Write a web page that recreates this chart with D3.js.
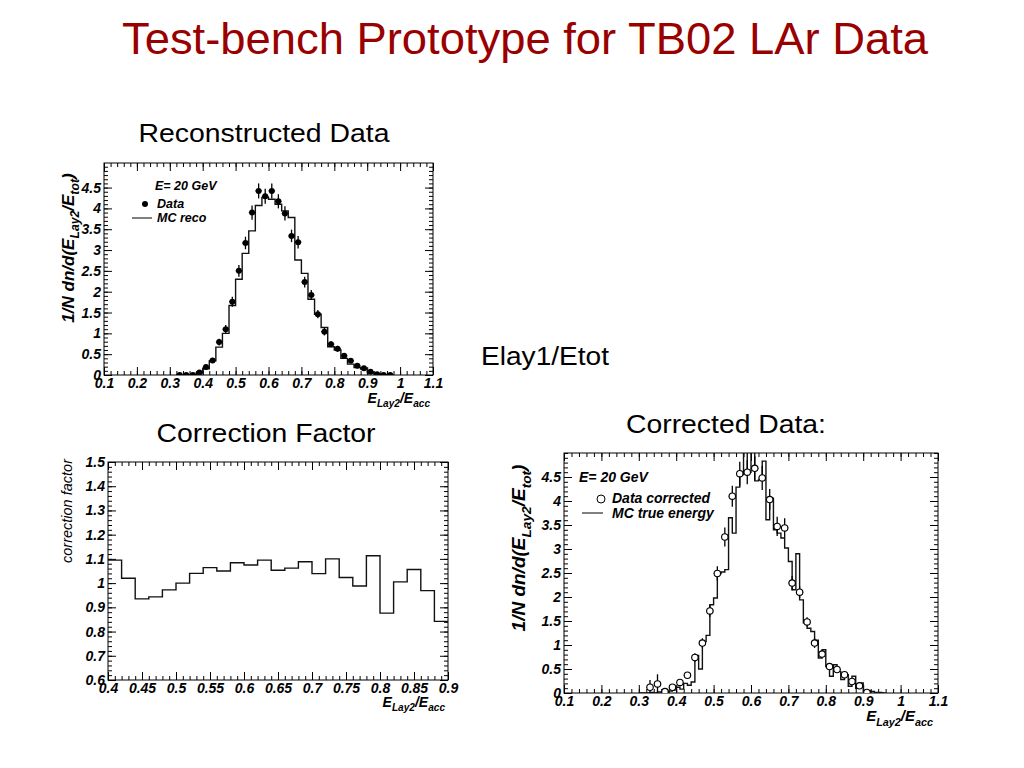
<!DOCTYPE html>
<html>
<head>
<meta charset="utf-8">
<script src="https://cdn.jsdelivr.net/npm/d3@7"></script>
<style>
  body { margin: 0; background: #fff; }
  text { font-family: "Liberation Sans", Arial, Helvetica, sans-serif; }
  .tick text { font-weight: bold; font-style: italic; font-size: 14px; fill: #000; }
  .tick line { stroke: #000; stroke-width: 1; }
  .lbl { font-weight: bold; font-style: italic; font-size: 13px; }
</style>
</head>
<body>
<svg id="chart"></svg>
<script>
// ---- Reconstructed data (top left) ----
const recoX = [0.33,0.35,0.37,0.39,0.41,0.43,0.45,0.47,0.49,0.51,0.53,0.55,0.57,0.59,0.61,0.63,0.65,
  0.67,0.69,0.71,0.73,0.75,0.77,0.79,0.81,0.83,0.85,0.87,0.89,0.91,0.93,0.95,0.97];
const recoY = [0.0,0.0,0.0,0.06,0.19,0.35,0.79,1.1,1.76,2.5,3.17,3.9,4.42,4.29,4.42,4.17,3.88,
  3.34,3.19,2.23,1.92,1.46,1.04,0.74,0.63,0.46,0.34,0.22,0.16,0.08,0.02,0.0,0.0];
const recoErr = [0.01,0.01,0.01,0.03,0.04,0.06,0.08,0.1,0.12,0.14,0.15,0.17,0.18,0.18,0.18,0.17,0.17,
  0.15,0.15,0.13,0.12,0.1,0.09,0.07,0.07,0.06,0.05,0.04,0.04,0.03,0.02,0.01,0.01];
const mcRecoLow = [0.32,0.34,0.36,0.38,0.40,0.42,0.44,0.46,0.48,0.50,0.52,0.54,0.56,0.58,0.60,0.62,0.64,
  0.66,0.68,0.70,0.72,0.74,0.76,0.78,0.80,0.82,0.84,0.86,0.88,0.90,0.92,0.94,0.96];
const mcRecoY = [0,0,0.01,0.05,0.15,0.34,0.67,1.0,1.67,2.30,2.92,3.46,4.07,4.26,4.22,4.10,3.94,
  3.78,2.76,2.44,1.82,1.46,1.14,0.68,0.60,0.40,0.26,0.18,0.14,0.06,0.03,0.01,0];

// ---- Correction factor (bottom left) ----
const corrLow = [0.40,0.42,0.44,0.46,0.48,0.50,0.52,0.54,0.56,0.58,0.60,0.62,0.64,0.66,0.68,0.70,
  0.72,0.74,0.76,0.78,0.80,0.82,0.84,0.86,0.88];
const corrFactor = [1.095,1.02,0.935,0.943,0.972,1.0,1.04,1.064,1.05,1.084,1.075,1.095,1.053,1.062,
  1.088,1.039,1.10,1.023,0.988,1.113,0.876,1.005,1.056,0.969,0.842];

// ---- Corrected data (bottom right) ----
const fixedX = [0.33,0.35,0.37,0.39,0.41,0.43,0.45,0.47,0.49,0.51,0.53,0.55,0.57,0.59,0.61,0.63,0.65,
  0.67,0.69,0.71,0.73,0.75,0.77,0.79,0.81,0.83,0.85,0.87,0.89,0.91];
const fixedY = [0.12,0.19,0.03,0.12,0.22,0.37,0.74,1.04,1.71,2.49,3.25,4.10,4.57,4.60,4.68,4.48,4.03,
  3.47,3.44,2.29,2.10,1.48,1.04,0.81,0.55,0.49,0.38,0.24,0.15,0.01];
const fixedErr = [0.15,0.2,0.04,0.06,0.06,0.06,0.09,0.1,0.12,0.15,0.2,0.22,0.25,0.25,0.25,0.25,0.22,
  0.2,0.2,0.15,0.12,0.1,0.1,0.08,0.07,0.06,0.06,0.05,0.04,0.02];
const mcTrueLow = [0.30,0.31,0.32,0.33,0.34,0.35,0.36,0.37,0.38,0.39,0.40,0.41,0.42,0.43,0.44,0.45,
  0.46,0.47,0.48,0.49,0.50,0.51,0.52,0.53,0.54,0.55,0.56,0.57,0.58,0.59,0.60,0.61,0.62,0.63,0.64,
  0.65,0.66,0.67,0.68,0.69,0.70,0.71,0.72,0.73,0.74,0.75,0.76,0.77,0.78,0.79,0.80,0.81,0.82,0.83,
  0.84,0.85,0.86,0.87,0.88,0.89,0.90,0.91,0.92,0.93,0.94,0.95];
const mcTrueY = [0,0,0,0.01,0,0.02,0.01,0.02,0.04,0.06,0.12,0.08,0.20,0.16,0.23,0.78,
  0.50,1.07,1.2,1.84,1.98,2.49,2.52,2.57,3.65,3.33,4.29,4.55,5.5,4.6,5.2,4.42,4.44,4.83,3.61,
  4.06,3.40,3.33,3.23,3.02,2.74,2.15,2.90,1.94,1.46,1.35,1.28,1.10,0.73,0.90,0.55,0.35,0.59,0.45,
  0.28,0.38,0.14,0.35,0.10,0.21,0.03,0.05,0.03,0.01,0.01,0];

// ---- tick labels ----
const xTicksE = [0.1,0.2,0.3,0.4,0.5,0.6,0.7,0.8,0.9,1,1.1];
const yTicksE = [0,0.5,1,1.5,2,2.5,3,3.5,4,4.5];
const xTicksC = [0.4,0.45,0.5,0.55,0.6,0.65,0.7,0.75,0.8,0.85,0.9];
const yTicksC = [0.6,0.7,0.8,0.9,1,1.1,1.2,1.3,1.4,1.5];

const svg = d3.select("#chart").attr("width", 1024).attr("height", 768);
svg.append("rect").attr("width", 1024).attr("height", 768).attr("fill", "#fff");

const fmt = d => String(+d.toFixed(2));
let clipId = 0;

function panel(p) {
  const x = d3.scaleLinear().domain(p.xDomain).range([p.left, p.right]);
  const y = d3.scaleLinear().domain(p.yDomain).range([p.bottom, p.top]);
  const g = svg.append("g");

  const minorX = x.ticks(p.xMinor), minorY = y.ticks(p.yMinor);
  // bottom / top
  g.append("g").attr("transform", `translate(0,${p.bottom})`)
    .call(d3.axisBottom(x).tickValues(p.xTicks).tickFormat(fmt).tickSize(-8).tickPadding(3));
  g.append("g").attr("transform", `translate(0,${p.bottom})`)
    .call(d3.axisBottom(x).tickValues(minorX).tickFormat("").tickSize(-4));
  g.append("g").attr("transform", `translate(0,${p.top})`)
    .call(d3.axisTop(x).tickValues(p.xTicks).tickFormat("").tickSize(-8));
  g.append("g").attr("transform", `translate(0,${p.top})`)
    .call(d3.axisTop(x).tickValues(minorX).tickFormat("").tickSize(-4));
  // left / right
  g.append("g").attr("transform", `translate(${p.left},0)`)
    .call(d3.axisLeft(y).tickValues(p.yTicks).tickFormat(fmt).tickSize(-8).tickPadding(3));
  g.append("g").attr("transform", `translate(${p.left},0)`)
    .call(d3.axisLeft(y).tickValues(minorY).tickFormat("").tickSize(-4));
  g.append("g").attr("transform", `translate(${p.right},0)`)
    .call(d3.axisRight(y).tickValues(p.yTicks).tickFormat("").tickSize(-8));
  g.append("g").attr("transform", `translate(${p.right},0)`)
    .call(d3.axisRight(y).tickValues(minorY).tickFormat("").tickSize(-4));
  g.selectAll(".domain").remove();

  g.append("rect")
    .attr("x", p.left).attr("y", p.top)
    .attr("width", p.right - p.left).attr("height", p.bottom - p.top)
    .attr("fill", "none").attr("stroke", "#000").attr("stroke-width", 1);

  const id = "clip" + (clipId++);
  svg.append("clipPath").attr("id", id).append("rect")
    .attr("x", p.left).attr("y", p.top)
    .attr("width", p.right - p.left).attr("height", p.bottom - p.top);
  const plot = g.append("g").attr("clip-path", `url(#${id})`);
  return {x, y, g, plot};
}

function histo(plot, x, y, low, vals, width) {
  const pts = low.map((d, i) => [d, vals[i]]);
  pts.push([low[low.length - 1] + width, vals[vals.length - 1]]);
  plot.append("path")
    .attr("d", d3.line().x(d => x(d[0])).y(d => y(d[1])).curve(d3.curveStepAfter)(pts))
    .attr("fill", "none").attr("stroke", "#111").attr("stroke-width", 1.4);
}

function points(plot, x, y, xs, ys, errs, half, open) {
  const pts = xs.map((d, i) => ({x: d, y: ys[i], e: errs[i]}));
  plot.selectAll(null).data(pts).enter().append("line")
    .attr("x1", d => x(d.x)).attr("x2", d => x(d.x))
    .attr("y1", d => y(d.y - d.e)).attr("y2", d => y(d.y + d.e))
    .attr("stroke", "#000").attr("stroke-width", 1.3);
  plot.selectAll(null).data(pts).enter().append("line")
    .attr("x1", d => x(d.x - half)).attr("x2", d => x(d.x + half))
    .attr("y1", d => y(d.y)).attr("y2", d => y(d.y))
    .attr("stroke", "#000").attr("stroke-width", 1);
  plot.selectAll(null).data(pts).enter().append("circle")
    .attr("cx", d => x(d.x)).attr("cy", d => y(d.y))
    .attr("r", open ? 3.2 : 3)
    .attr("fill", open ? "#fff" : "#000")
    .attr("stroke", "#000").attr("stroke-width", open ? 1.1 : 0);
}

function subLabel(parent, x, y, parts, size, anchor, rotate) {
  const t = parent.append("text").attr("class", "lbl")
    .attr("text-anchor", anchor).style("font-size", size + "px")
    .attr("transform", `translate(${x},${y})` + (rotate ? " rotate(-90)" : ""));
  let shifted = 0;
  parts.forEach(([txt, sub]) => {
    const dy = sub ? size * 0.3 : -shifted;
    t.append("tspan").text(txt)
      .attr("dy", dy)
      .style("font-size", (sub ? size * 0.72 : size) + "px");
    shifted = sub ? size * 0.3 : 0;
  });
  return t;
}

function heading(x, y, size, width, txt, color) {
  svg.append("text").attr("x", x).attr("y", y).attr("text-anchor", "middle")
    .style("font-size", size + "px").attr("fill", color || "#000")
    .attr("textLength", width).attr("lengthAdjust", "spacingAndGlyphs")
    .text(txt);
}

// ---- titles ----
heading(525, 54, 44, 806, "Test-bench Prototype for TB02 LAr Data", "#990000");
heading(264, 142, 26, 251, "Reconstructed Data");
heading(266, 442, 26, 219, "Correction Factor");
heading(545, 365, 26, 128, "Elay1/Etot");
heading(726, 433, 26, 200, "Corrected Data:");

// ---- top left ----
const tl = panel({xDomain: [0.1, 1.1], yDomain: [0, 5.09], left: 104, right: 433, top: 163, bottom: 375,
  xTicks: xTicksE, yTicks: yTicksE, xMinor: 50, yMinor: 50});
histo(tl.plot, tl.x, tl.y, mcRecoLow, mcRecoY, 0.02);
points(tl.plot, tl.x, tl.y, recoX, recoY, recoErr, 0.01, false);
subLabel(svg, 74, 248, [["1/N dn/d(E"], ["Lay2", 1], ["/E"], ["tot", 1], [")"]], 17, "middle", true);
subLabel(svg, 430, 403, [["E"], ["Lay2", 1], ["/E"], ["acc", 1]], 14, "end", false);
svg.append("text").attr("class", "lbl").attr("x", 155).attr("y", 190).style("font-size", "12.5px").text("E= 20 GeV");
svg.append("circle").attr("cx", 145).attr("cy", 204).attr("r", 3);
svg.append("text").attr("class", "lbl").attr("x", 157).attr("y", 208).style("font-size", "12.5px").text("Data");
svg.append("line").attr("x1", 132).attr("x2", 152).attr("y1", 218).attr("y2", 218).attr("stroke", "#000");
svg.append("text").attr("class", "lbl").attr("x", 157).attr("y", 222).style("font-size", "12.5px").text("MC reco");

// ---- bottom left ----
const bl = panel({xDomain: [0.4, 0.9], yDomain: [0.6, 1.5], left: 108, right: 448, top: 462, bottom: 680,
  xTicks: xTicksC, yTicks: yTicksC, xMinor: 50, yMinor: 45});
histo(bl.plot, bl.x, bl.y, corrLow, corrFactor, 0.02);
svg.append("text").attr("transform", "translate(72,511) rotate(-90)").attr("text-anchor", "middle")
  .style("font-size", "14.5px").style("font-style", "italic").text("correction factor");
subLabel(svg, 445, 707, [["E"], ["Lay2", 1], ["/E"], ["acc", 1]], 14, "end", false);

// ---- bottom right ----
const br = panel({xDomain: [0.1, 1.1], yDomain: [0, 5.0], left: 564, right: 938, top: 453, bottom: 693,
  xTicks: xTicksE, yTicks: yTicksE, xMinor: 50, yMinor: 50});
histo(br.plot, br.x, br.y, mcTrueLow, mcTrueY, 0.01);
points(br.plot, br.x, br.y, fixedX, fixedY, fixedErr, 0.01, true);
subLabel(svg, 525, 548, [["1/N dn/d(E"], ["Lay2", 1], ["/E"], ["tot", 1], [")"]], 19, "middle", true);
subLabel(svg, 933, 721, [["E"], ["Lay2", 1], ["/E"], ["acc", 1]], 15, "end", false);
svg.append("text").attr("class", "lbl").attr("x", 579).attr("y", 482).style("font-size", "14px").text("E= 20 GeV");
svg.append("circle").attr("cx", 601).attr("cy", 499).attr("r", 4).attr("fill", "#fff").attr("stroke", "#000");
svg.append("text").attr("class", "lbl").attr("x", 612).attr("y", 503).style("font-size", "14px").text("Data corrected");
svg.append("line").attr("x1", 582).attr("x2", 603).attr("y1", 513).attr("y2", 513).attr("stroke", "#000");
svg.append("text").attr("class", "lbl").attr("x", 612).attr("y", 518).style("font-size", "14px").text("MC true energy");
</script>
</body>
</html>
